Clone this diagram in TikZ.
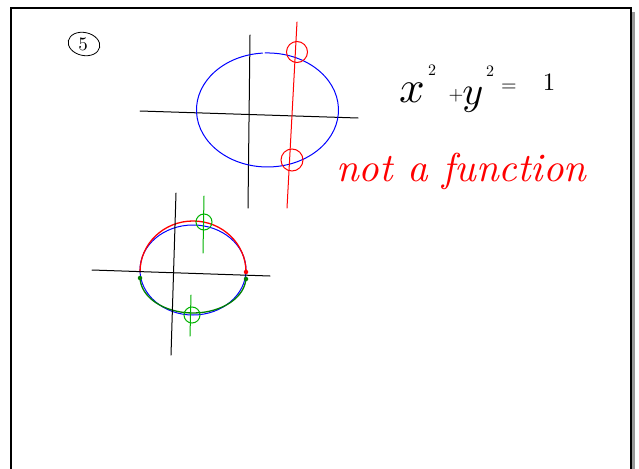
\documentclass[tikz,border=0pt]{standalone}
\usepackage{graphicx}
\begin{document}
\begin{tikzpicture}[x=1pt,y=-1pt,
  axis/.style={black,line width=1pt,line cap=round},
  pen/.style={line width=1pt,line cap=round},
  dotmark/.style={circle,inner sep=0pt,minimum size=4.5pt}]
\useasboundingbox (0,0) rectangle (639,468);
\fill[white] (0,0) rectangle (639,468);
% frame with shadow
\draw[gray!80,line width=3pt] (633.5,12) -- (633.5,470);
\draw[black,line width=2pt] (11,470) -- (11,8.5) -- (630.5,8.5) -- (630.5,470);
% circled 5
\node (five) at (83,44) {\scalebox{1.9}{5}};
\draw[pen,line width=0.8pt,rotate around={-12:(84,44)}] (84,44) ellipse (16 and 11.5);
% top graph
\coordinate (hl) at (140,111); \coordinate (hr) at (358,118);
\coordinate (vt) at (250,35); \coordinate (vb) at (248,208);
\draw[axis] (hl) -- (hr);
\draw[axis] (vt) -- (vb);
\draw[blue,pen] (265,53) arc[start angle=-92,end angle=266,x radius=71,y radius=57];
\coordinate (rt) at (297,22); \coordinate (rb) at (287,208);
\draw[red,pen] (rt) -- (rb);
\draw[red,pen] (297,52) circle (10.5);
\draw[red,pen] (292,160) circle (11);
% equation
\node (ex) at (412,93) {\scalebox{4.5}{$x$}};
\node (e2a) at (432,70) {\scalebox{1.6}{$2$}};
\node (ep) at (456,96) {\scalebox{1.9}{$+$}};
\node (ey) at (473,100) {\scalebox{4}{$y$}};
\node (e2b) at (490,71) {\scalebox{1.6}{$2$}};
\node (eq) at (509,88) {\scalebox{2}{$=$}};
\node (e1) at (549,82) {\scalebox{2.5}{$1$}};
% not a function
\node[red,anchor=base west,inner sep=0pt] (naf) at (336,181) {\resizebox{250pt}{!}{\itshape not a function}};
% bottom graph
\coordinate (bhl) at (92,270); \coordinate (bhr) at (270,276);
\coordinate (bvt) at (176,193); \coordinate (bvb) at (171,355);
\draw[blue,pen] (193,270) ellipse (53 and 45);
\draw[red,pen,line width=1.3pt] (140,272) arc[start angle=180,end angle=360,x radius=53,y radius=51];
\draw[green!50!black,pen,line width=1.3pt] (140,277) arc[start angle=180,end angle=0,x radius=53,y radius=36];
\draw[axis] (bhl) -- (bhr);
\draw[axis] (bvt) -- (bvb);
\node[dotmark,fill=red] (rd) at (246,272) {};
\node[dotmark,fill=green!50!black] (gl) at (140,278) {};
\node[dotmark,fill=green!50!black] (gr) at (246,279) {};
\coordinate (g1t) at (204,196); \coordinate (g1b) at (203,253);
\coordinate (g2t) at (191,295); \coordinate (g2b) at (190,336);
\draw[green!70!black,pen] (g1t) -- (g1b);
\draw[green!70!black,pen] (g2t) -- (g2b);
\draw[green!70!black,pen] (204,222) circle (8);
\draw[green!70!black,pen] (192,315) circle (8);
\end{tikzpicture}
\end{document}
